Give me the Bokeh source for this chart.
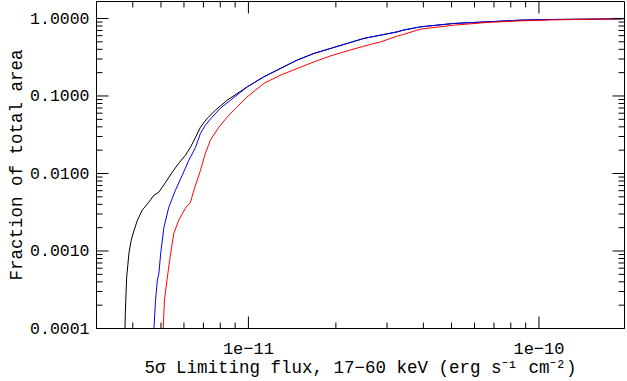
import math
from bokeh.plotting import figure
from bokeh.models import FixedTicker, CustomJSTickFormatter, PrintfTickFormatter, Range1d
from bokeh.embed import file_html
from bokeh.resources import INLINE

# ---- data ----
black_x = [3.76e-12, 3.77e-12, 3.81e-12, 3.88e-12, 3.95e-12, 4.04e-12, 4.15e-12, 4.31e-12,
           4.54e-12, 4.73e-12, 4.92e-12, 5.19e-12, 5.47e-12, 5.76e-12, 6.07e-12, 6.32e-12,
           6.58e-12, 6.84e-12, 7.22e-12, 7.70e-12, 8.45e-12, 9.90e-12, 1.129e-11, 1.289e-11,
           1.472e-11, 1.679e-11, 1.917e-11, 2.188e-11, 2.495e-11, 2.85e-11, 3.25e-11, 3.41e-11,
           3.91e-11, 5.08e-11, 6.61e-11, 8.61e-11, 1.117e-10, 1.459e-10, 1.897e-10, 2.0e-10]
black_y = [1.0e-4, 1.57e-4, 4.59e-4, 9.4e-4, 1.38e-3, 1.85e-3, 2.5e-3, 3.36e-3,
           4.26e-3, 5.25e-3, 5.74e-3, 7.73e-3, 0.0104, 0.0136, 0.0172, 0.0218,
           0.0294, 0.0396, 0.0517, 0.0656, 0.0883, 0.131, 0.176, 0.226,
           0.290, 0.353, 0.410, 0.476, 0.552, 0.609, 0.671, 0.706,
           0.779, 0.862, 0.904, 0.951, 0.971, 0.980, 0.990, 1.0]

blue_x = [4.73e-12, 4.79e-12, 4.86e-12, 4.92e-12, 4.99e-12, 5.12e-12, 5.32e-12, 5.61e-12,
          5.92e-12, 6.24e-12, 6.58e-12, 6.84e-12, 7.11e-12, 7.50e-12, 8.01e-12, 8.68e-12,
          9.90e-12, 1.129e-11, 1.289e-11, 1.472e-11, 1.679e-11, 1.917e-11, 2.188e-11, 2.495e-11,
          2.85e-11, 3.25e-11, 3.41e-11, 3.91e-11, 5.08e-11, 6.61e-11, 8.61e-11, 1.117e-10,
          1.459e-10, 1.897e-10, 2.0e-10]
blue_y = [1.0e-4, 2.32e-4, 4.2e-4, 5.18e-4, 9.37e-4, 2.03e-3, 3.67e-3, 6.09e-3,
          9.51e-3, 0.0149, 0.0218, 0.0331, 0.0420, 0.0533, 0.0696, 0.0883,
          0.131, 0.177, 0.227, 0.291, 0.354, 0.411, 0.477, 0.553,
          0.610, 0.672, 0.707, 0.780, 0.863, 0.905, 0.951, 0.971,
          0.980, 0.990, 1.0]

red_x = [5.09e-12, 5.14e-12, 5.26e-12, 5.40e-12, 5.54e-12, 5.76e-12, 6.07e-12, 6.32e-12,
         6.49e-12, 6.84e-12, 7.11e-12, 7.40e-12, 7.91e-12, 8.45e-12, 9.02e-12, 9.90e-12,
         1.129e-11, 1.289e-11, 1.472e-11, 1.679e-11, 1.917e-11, 2.188e-11, 2.495e-11, 2.85e-11,
         3.25e-11, 3.41e-11, 3.91e-11, 5.08e-11, 6.61e-11, 8.61e-11, 1.117e-10, 1.459e-10,
         1.897e-10, 2.0e-10]
red_y = [1.0e-4, 2.32e-4, 4.59e-4, 9.4e-4, 1.70e-3, 2.5e-3, 3.57e-3, 4.26e-3,
         6.09e-3, 0.0110, 0.0183, 0.0269, 0.0396, 0.0533, 0.0690, 0.0973,
         0.145, 0.1855, 0.226, 0.275, 0.329, 0.382, 0.439, 0.499,
         0.591, 0.621, 0.728, 0.819, 0.888, 0.931, 0.959, 0.975,
         0.990, 1.0]

x_major = [1e-11, 1e-10]
y_major = [1e-4, 1e-3, 1e-2, 1e-1, 1.0]
x_minor = [m * 10.0 ** e for e in (-12, -11, -10) for m in range(2, 10)]
y_minor = [m * 10.0 ** e for e in (-4, -3, -2, -1, 0) for m in range(2, 10)]

X0, X1 = 3.0e-12, 1.97e-10
Y0, Y1 = 1e-4, 1.656
FRAME_W, FRAME_H = 528, 327
W, H = 627, 381
BL, BR, BT, BB = 96, W - 96 - FRAME_W, 1, H - 1 - FRAME_H

FONT = "Liberation Mono"

p = figure(width=W, height=H, x_axis_type="log", y_axis_type="log",
           x_range=Range1d(X0, X1), y_range=Range1d(Y0, Y1),
           output_backend="svg", toolbar_location=None,
           min_border_left=BL, min_border_right=BR, min_border_top=BT, min_border_bottom=BB)
p.grid.visible = False
p.outline_line_color = "black"
p.outline_line_width = 1
p.background_fill_color = "white"
p.border_fill_color = "white"

p.line(black_x, black_y, line_color="black", line_width=1)
p.line(blue_x, blue_y, line_color="#0000ff", line_width=1)
p.line(red_x, red_y, line_color="#ff0000", line_width=1)

# inward ticks on all four sides, drawn as one NaN-separated line; each tick
# straddles the frame edge and the outer half is clipped away by the frame
xdec = FRAME_W / math.log10(X1 / X0)   # pixels per decade
ydec = FRAME_H / math.log10(Y1 / Y0)
NAN = float("nan")
tick_x, tick_y = [], []
for ticks, ln in ((x_major, 12), (x_minor, 6)):
    f = 10 ** (ln / ydec)
    for t in ticks:
        if X0 <= t <= X1:
            for edge in (Y0, Y1):
                tick_x += [t, t, NAN]
                tick_y += [edge / f, edge * f, NAN]
for ticks, ln in ((y_major, 12), (y_minor, 6)):
    f = 10 ** (ln / xdec)
    for t in ticks:
        if Y0 <= t <= Y1:
            for edge in (X0, X1):
                tick_x += [edge / f, edge * f, NAN]
                tick_y += [t, t, NAN]
p.line(tick_x, tick_y, line_color="black", line_width=1)

xfmt = CustomJSTickFormatter(code="""
const e = Math.round(Math.log10(tick));
return "1e" + (e < 0 ? "\\u2212" + (-e) : String(e));
""")

def style(ax, fs_tick):
    ax.major_tick_in = 0
    ax.major_tick_out = 0
    ax.minor_tick_in = 0
    ax.minor_tick_out = 0
    ax.axis_line_color = "black"
    ax.major_label_text_font = FONT
    ax.major_label_text_font_size = fs_tick
    ax.major_label_text_color = "black"
    ax.axis_label_text_font = FONT
    ax.axis_label_text_font_size = "17.5px"
    ax.axis_label_text_font_style = "normal"
    ax.axis_label_text_color = "black"

xa = p.xaxis[0]
xa.ticker = FixedTicker(ticks=x_major, minor_ticks=x_minor)
xa.formatter = xfmt
style(xa, "17px")
xa.major_label_standoff = 14
xa.axis_label = "5\u03c3 Limiting flux, 17\u221260 keV (erg s\u207b\u00b9 cm\u207b\u00b2)"
xa.axis_label_standoff = 1

ya = p.yaxis[0]
ya.ticker = FixedTicker(ticks=y_major, minor_ticks=y_minor)
ya.formatter = PrintfTickFormatter(format="%.4f")
style(ya, "16.5px")
ya.major_label_standoff = 7
ya.axis_label = "Fraction of total area"
ya.axis_label_standoff = 0

open("out.html", "w").write(file_html(p, INLINE))
